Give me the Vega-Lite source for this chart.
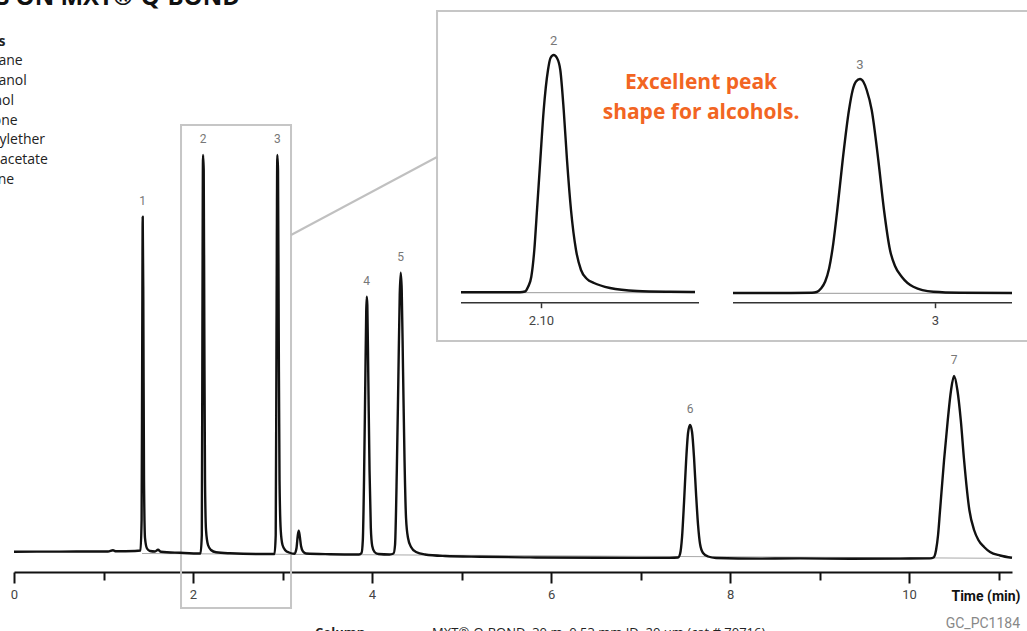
{
  "$schema": "https://vega.github.io/schema/vega-lite/v6.json",
  "width": 998,
  "height": 572,
  "autosize": "none",
  "padding": {"left": 14, "top": 0, "right": 15, "bottom": 59},
  "background": "white",
  "config": {"view": {"stroke": null}},
  "datasets": {
    "trace": [
      {"t":0,"v":-1.7},{"t":0.514,"v":-1.6},{"t":1.05,"v":-1.5},{"t":1.106,"v":-0.3},{"t":1.14,"v":-1.3},{"t":1.352,"v":-1},{"t":1.413,"v":-0.5},{"t":1.4257,"v":30},{"t":1.4324,"v":200},{"t":1.438,"v":333.3},{"t":1.4447,"v":250},{"t":1.4525,"v":70},{"t":1.4637,"v":12},{"t":1.486,"v":1.5},{"t":1.5196,"v":-1},{"t":1.5754,"v":-1.5},{"t":1.609,"v":0.2},{"t":1.6425,"v":-1.8},{"t":1.8547,"v":-2.8},{"t":2.0838,"v":-3.5},{"t":2.0983,"v":15},{"t":2.105,"v":220},{"t":2.1117,"v":395},{"t":2.1196,"v":380},{"t":2.1263,"v":220},{"t":2.1341,"v":70},{"t":2.1453,"v":20},{"t":2.1676,"v":5},{"t":2.2011,"v":0},{"t":2.257,"v":-2.3},{"t":2.4134,"v":-3.3},{"t":2.7486,"v":-4},{"t":2.9106,"v":-4},{"t":2.924,"v":15},{"t":2.933,"v":220},{"t":2.9419,"v":395},{"t":2.9497,"v":380},{"t":2.9575,"v":220},{"t":2.9665,"v":70},{"t":2.9799,"v":20},{"t":3.0,"v":5},{"t":3.0335,"v":-0.5},{"t":3.0726,"v":-2.5},{"t":3.1341,"v":-3.8},{"t":3.1564,"v":2},{"t":3.1698,"v":14},{"t":3.181,"v":19.3},{"t":3.1922,"v":14},{"t":3.2067,"v":4},{"t":3.2291,"v":-1.5},{"t":3.2626,"v":-3.5},{"t":3.5307,"v":-4.2},{"t":3.8547,"v":-4.5},{"t":3.8827,"v":-3},{"t":3.8972,"v":10},{"t":3.9106,"v":70},{"t":3.9251,"v":170},{"t":3.9352,"v":238},{"t":3.9408,"v":253.3},{"t":3.9475,"v":245},{"t":3.9587,"v":170},{"t":3.9721,"v":80},{"t":3.9866,"v":22},{"t":4.0022,"v":4},{"t":4.0279,"v":-2},{"t":4.0726,"v":-4},{"t":4.1944,"v":-4.5},{"t":4.2402,"v":-3.5},{"t":4.257,"v":5},{"t":4.2771,"v":80},{"t":4.2939,"v":170},{"t":4.3095,"v":255},{"t":4.3207,"v":277.3},{"t":4.3318,"v":260},{"t":4.3464,"v":180},{"t":4.3631,"v":90},{"t":4.3799,"v":32},{"t":4.4022,"v":12},{"t":4.4358,"v":3},{"t":4.4916,"v":-2},{"t":4.5922,"v":-4.5},{"t":4.8156,"v":-6},{"t":5.2067,"v":-6.8},{"t":5.7654,"v":-7.4},{"t":6.5475,"v":-7.8},{"t":7.3296,"v":-7.9},{"t":7.419,"v":-7.5},{"t":7.4413,"v":-4},{"t":7.4637,"v":13},{"t":7.486,"v":48},{"t":7.5084,"v":88},{"t":7.5307,"v":117},{"t":7.5531,"v":125},{"t":7.5754,"v":118},{"t":7.5978,"v":92},{"t":7.6201,"v":56},{"t":7.6425,"v":25},{"t":7.6648,"v":6},{"t":7.6983,"v":-3},{"t":7.7542,"v":-6.5},{"t":7.8436,"v":-8},{"t":8.3352,"v":-8.6},{"t":8.7821,"v":-8.4},{"t":9.3408,"v":-8.8},{"t":9.8994,"v":-8.6},{"t":10.2346,"v":-8.4},{"t":10.2737,"v":-7.5},{"t":10.3017,"v":0},{"t":10.324,"v":15},{"t":10.3464,"v":40},{"t":10.3911,"v":90},{"t":10.4324,"v":130},{"t":10.4693,"v":160},{"t":10.5028,"v":174},{"t":10.5397,"v":160},{"t":10.5777,"v":130},{"t":10.6145,"v":90},{"t":10.6737,"v":40},{"t":10.7263,"v":20},{"t":10.7743,"v":10},{"t":10.838,"v":3},{"t":10.905,"v":-2},{"t":11.0168,"v":-5.5},{"t":11.15,"v":-7.8}
    ],
    "peaks": [
      {"label":"1","t":1.438,"v":333.3},{"label":"2","t":2.1117,"v":395},{"label":"3","t":2.9419,"v":395},{"label":"4","t":3.9408,"v":253.3},{"label":"5","t":4.3207,"v":277.3},{"label":"6","t":7.5531,"v":125},{"label":"7","t":10.5028,"v":174}
    ],
    "insetA": [
      {"t":2.03333,"v":0.2},{"t":2.06583,"v":0.2},{"t":2.0825,"v":0.3},{"t":2.08667,"v":1},{"t":2.08917,"v":5.5},{"t":2.09192,"v":15.8},{"t":2.09442,"v":42.5},{"t":2.09667,"v":82.5},{"t":2.09942,"v":132.5},{"t":2.10225,"v":182.5},{"t":2.10583,"v":222.5},{"t":2.10792,"v":234.5},{"t":2.11058,"v":237.5},{"t":2.11333,"v":234.5},{"t":2.11608,"v":222.5},{"t":2.11892,"v":182.5},{"t":2.12167,"v":132.5},{"t":2.125,"v":82.5},{"t":2.12917,"v":42.5},{"t":2.13333,"v":22.5},{"t":2.13833,"v":13.5},{"t":2.14417,"v":9.5},{"t":2.1575,"v":4.5},{"t":2.18,"v":1.5},{"t":2.2075,"v":0.7},{"t":2.22833,"v":0.5}
    ],
    "insetB": [
      {"t":2.83167,"v":-0.5},{"t":2.87917,"v":-0.5},{"t":2.8975,"v":-0.3},{"t":2.90142,"v":0.5},{"t":2.905,"v":4},{"t":2.9085,"v":11},{"t":2.91175,"v":24},{"t":2.91525,"v":49.2},{"t":2.91858,"v":82.5},{"t":2.92308,"v":132.5},{"t":2.92833,"v":182.5},{"t":2.93142,"v":202.5},{"t":2.93417,"v":211},{"t":2.9375,"v":213.5},{"t":2.94042,"v":210.5},{"t":2.94308,"v":202.5},{"t":2.94725,"v":182.5},{"t":2.95275,"v":132.5},{"t":2.9575,"v":82.5},{"t":2.9625,"v":42.5},{"t":2.96667,"v":26.5},{"t":2.97225,"v":15.8},{"t":2.98192,"v":5.8},{"t":2.99858,"v":0.8},{"t":3.02083,"v":-0.2},{"t":3.06417,"v":-0.5}
    ]
  },
  "layer": [
    {
      "layer": [
        {
          "data": {"values": [{}]},
          "mark": {"type": "rect", "fill": null, "stroke": "#c6c6c6", "strokeWidth": 2},
          "encoding": {
            "x": {"datum": 1.866, "type": "quantitative", "scale": {"domain": [0, 11.15], "nice": false, "zero": false}},
            "x2": {"datum": 3.095},
            "y": {"datum": 425, "type": "quantitative", "scale": {"domain": [-22, 550], "nice": false, "zero": false}, "axis": null},
            "y2": {"datum": -58}
          }
        },
        {
          "data": {"values": [{}]},
          "mark": {"type": "rule", "color": "#aaaaaa", "strokeWidth": 1},
          "encoding": {
            "x": {"datum": 1.43, "type": "quantitative", "scale": {"domain": [0, 11.15], "nice": false, "zero": false}},
            "x2": {"datum": 11.0168},
            "y": {"datum": -3.5, "type": "quantitative", "scale": {"domain": [-22, 550], "nice": false, "zero": false}, "axis": null},
            "y2": {"datum": -8.3}
          }
        },
        {
          "data": {"name": "trace"},
          "mark": {"type": "line", "color": "#111111", "strokeWidth": 2.4, "interpolate": "monotone", "strokeJoin": "round"},
          "encoding": {
            "x": {
              "field": "t", "type": "quantitative",
              "scale": {"domain": [0, 11.15], "nice": false, "zero": false},
              "axis": {
                "orient": "bottom",
                "values": [0,1,2,3,4,5,6,7,8,9,10,11],
                "format": "d",
                "labelExpr": "datum.value % 2 === 0 ? datum.label : ''",
                "tickSize": {"condition": {"test": "datum.value % 2 === 0", "value": 11}, "value": 8},
                "tickWidth": 2, "tickColor": "#111111",
                "domainColor": "#111111", "domainWidth": 2,
                "grid": false,
                "labelFont": "Roboto", "labelFontSize": 13, "labelColor": "#444444",
                "labelPadding": 5, "labelFlush": false, "labelOverlap": false,
                "title": "Time (min)",
                "titleX": 1006, "titleY": 28, "titleAlign": "right", "titleBaseline": "alphabetic",
                "titleFont": "Roboto", "titleFontSize": 14, "titleFontWeight": "bold", "titleColor": "#111111"
              }
            },
            "y": {"field": "v", "type": "quantitative", "scale": {"domain": [-22, 550], "nice": false, "zero": false}, "axis": null}
          }
        },
        {
          "data": {"name": "peaks"},
          "mark": {"type": "text", "dy": -16, "baseline": "middle", "align": "center", "color": "#777777", "fontSize": 12, "font": "Roboto"},
          "encoding": {
            "x": {"field": "t", "type": "quantitative", "scale": {"domain": [0, 11.15], "nice": false, "zero": false}},
            "y": {"field": "v", "type": "quantitative", "scale": {"domain": [-22, 550], "nice": false, "zero": false}, "axis": null},
            "text": {"field": "label"}
          }
        },
        {
          "data": {"values": [{}]},
          "mark": {"type": "rect", "fill": "white", "stroke": "#c6c6c6", "strokeWidth": 2},
          "encoding": {
            "x": {"datum": 4.7263, "type": "quantitative", "scale": {"domain": [0, 11.15], "nice": false, "zero": false}},
            "x2": {"datum": 11.6},
            "y": {"datum": 539, "type": "quantitative", "scale": {"domain": [-22, 550], "nice": false, "zero": false}, "axis": null},
            "y2": {"datum": 209}
          }
        },
        {
          "data": {"values": [{}]},
          "mark": {"type": "rule", "color": "#c0c0c0", "strokeWidth": 2},
          "encoding": {
            "x": {"datum": 3.095, "type": "quantitative", "scale": {"domain": [0, 11.15], "nice": false, "zero": false}},
            "x2": {"datum": 4.7263},
            "y": {"datum": 315, "type": "quantitative", "scale": {"domain": [-22, 550], "nice": false, "zero": false}, "axis": null},
            "y2": {"datum": 393}
          }
        },
        {
          "data": {"values": [{}]},
          "mark": {"type": "text", "text": ["Excellent peak", "shape for alcohols."], "align": "center", "baseline": "middle", "lineHeight": 30, "font": "Open Sans", "fontSize": 21, "fontWeight": "bold", "color": "#F26522"},
          "encoding": {
            "x": {"datum": 7.676, "type": "quantitative", "scale": {"domain": [0, 11.15], "nice": false, "zero": false}},
            "y": {"datum": 467, "type": "quantitative", "scale": {"domain": [-22, 550], "nice": false, "zero": false}, "axis": null}
          }
        },
        {
          "data": {"values": [{}]},
          "mark": {"type": "text", "text": "Peaks", "align": "left", "baseline": "middle", "font": "Open Sans", "fontSize": 14, "fontWeight": "bold", "color": "#222222"},
          "encoding": {
            "x": {"datum": -0.5542, "type": "quantitative", "scale": {"domain": [0, 11.15], "nice": false, "zero": false}},
            "y": {"datum": 508.3, "type": "quantitative", "scale": {"domain": [-22, 550], "nice": false, "zero": false}, "axis": null}
          }
        },
        {
          "data": {"values": [{}]},
          "mark": {"type": "text", "text": ["Methane", "Methanol", "Ethanol", "Acetone", "Diethylether", "Ethyl acetate", "Hexane"], "align": "left", "baseline": "middle", "lineHeight": 19.85, "font": "Open Sans", "fontSize": 14, "color": "#222222"},
          "encoding": {
            "x": {"datum": -0.5542, "type": "quantitative", "scale": {"domain": [0, 11.15], "nice": false, "zero": false}},
            "y": {"datum": 489, "type": "quantitative", "scale": {"domain": [-22, 550], "nice": false, "zero": false}, "axis": null}
          }
        },
        {
          "data": {"values": [{}]},
          "mark": {"type": "text", "text": "SOLVENTS ON MXT®-Q-BOND", "align": "right", "baseline": "alphabetic", "font": "Open Sans", "fontSize": 24, "fontWeight": "bold", "color": "#111111"},
          "encoding": {
            "x": {"datum": 2.525, "type": "quantitative", "scale": {"domain": [0, 11.15], "nice": false, "zero": false}},
            "y": {"datum": 545, "type": "quantitative", "scale": {"domain": [-22, 550], "nice": false, "zero": false}, "axis": null}
          }
        },
        {
          "data": {"values": [{}]},
          "mark": {"type": "text", "text": "Column", "align": "left", "baseline": "alphabetic", "font": "Open Sans", "fontSize": 13, "fontWeight": "bold", "color": "#222222"},
          "encoding": {
            "x": {"datum": 3.3631, "type": "quantitative", "scale": {"domain": [0, 11.15], "nice": false, "zero": false}},
            "y": {"datum": -87, "type": "quantitative", "scale": {"domain": [-22, 550], "nice": false, "zero": false}, "axis": null}
          }
        },
        {
          "data": {"values": [{}]},
          "mark": {"type": "text", "text": "MXT®-Q-BOND, 30 m, 0.53 mm ID, 20 µm (cat.# 70716)", "align": "left", "baseline": "alphabetic", "font": "Open Sans", "fontSize": 13, "color": "#222222"},
          "encoding": {
            "x": {"datum": 4.6704, "type": "quantitative", "scale": {"domain": [0, 11.15], "nice": false, "zero": false}},
            "y": {"datum": -87, "type": "quantitative", "scale": {"domain": [-22, 550], "nice": false, "zero": false}, "axis": null}
          }
        },
        {
          "data": {"values": [{}]},
          "mark": {"type": "text", "text": "GC_PC1184", "align": "right", "baseline": "middle", "font": "Roboto", "fontSize": 14, "color": "#888888"},
          "encoding": {
            "x": {"datum": 11.2402, "type": "quantitative", "scale": {"domain": [0, 11.15], "nice": false, "zero": false}},
            "y": {"datum": -74, "type": "quantitative", "scale": {"domain": [-22, 550], "nice": false, "zero": false}, "axis": null}
          }
        }
      ]
    },
    {
      "layer": [
        {
          "data": {"values": [{}]},
          "mark": {"type": "rule", "color": "#999999", "strokeWidth": 1},
          "encoding": {
            "x": {"datum": 2.03333, "type": "quantitative", "scale": {"domain": [1.66083, 2.4925], "nice": false, "zero": false}},
            "x2": {"datum": 2.22833},
            "y": {"datum": -0.2, "type": "quantitative", "scale": {"domain": [-279.5, 292.5], "nice": false, "zero": false}, "axis": null}
          }
        },
        {
          "data": {"values": [{}]},
          "mark": {"type": "rule", "color": "#333333", "strokeWidth": 1.5},
          "encoding": {
            "x": {"datum": 2.03333, "type": "quantitative", "scale": {"domain": [1.66083, 2.4925], "nice": false, "zero": false}},
            "x2": {"datum": 2.23167},
            "y": {"datum": -10.2, "type": "quantitative", "scale": {"domain": [-279.5, 292.5], "nice": false, "zero": false}, "axis": null}
          }
        },
        {
          "data": {"name": "insetA"},
          "mark": {"type": "line", "color": "#111111", "strokeWidth": 2.4, "interpolate": "monotone", "strokeJoin": "round"},
          "encoding": {
            "x": {
              "field": "t", "type": "quantitative",
              "scale": {"domain": [1.66083, 2.4925], "nice": false, "zero": false},
              "axis": {
                "orient": "bottom", "offset": -269.3, "values": [2.1], "format": ".2f", "zindex": 2,
                "domain": false, "grid": false, "tickSize": 5, "tickWidth": 1.5, "tickColor": "#333333",
                "labelFont": "Roboto", "labelFontSize": 13, "labelColor": "#444444", "labelPadding": 7, "title": null
              }
            },
            "y": {"field": "v", "type": "quantitative", "scale": {"domain": [-279.5, 292.5], "nice": false, "zero": false}, "axis": null}
          }
        },
        {
          "data": {"values": [{}]},
          "mark": {"type": "text", "text": "2", "dy": -14.5, "baseline": "middle", "align": "center", "color": "#777777", "fontSize": 13, "font": "Roboto"},
          "encoding": {
            "x": {"datum": 2.11058, "type": "quantitative", "scale": {"domain": [1.66083, 2.4925], "nice": false, "zero": false}},
            "y": {"datum": 237.5, "type": "quantitative", "scale": {"domain": [-279.5, 292.5], "nice": false, "zero": false}, "axis": null}
          }
        }
      ]
    },
    {
      "layer": [
        {
          "data": {"values": [{}]},
          "mark": {"type": "rule", "color": "#999999", "strokeWidth": 1},
          "encoding": {
            "x": {"datum": 2.83167, "type": "quantitative", "scale": {"domain": [2.2325, 3.06417], "nice": false, "zero": false}},
            "x2": {"datum": 3.06417},
            "y": {"datum": -0.8, "type": "quantitative", "scale": {"domain": [-279.5, 292.5], "nice": false, "zero": false}, "axis": null}
          }
        },
        {
          "data": {"values": [{}]},
          "mark": {"type": "rule", "color": "#333333", "strokeWidth": 1.5},
          "encoding": {
            "x": {"datum": 2.83167, "type": "quantitative", "scale": {"domain": [2.2325, 3.06417], "nice": false, "zero": false}},
            "x2": {"datum": 3.06417},
            "y": {"datum": -10.2, "type": "quantitative", "scale": {"domain": [-279.5, 292.5], "nice": false, "zero": false}, "axis": null}
          }
        },
        {
          "data": {"name": "insetB"},
          "mark": {"type": "line", "color": "#111111", "strokeWidth": 2.4, "interpolate": "monotone", "strokeJoin": "round"},
          "encoding": {
            "x": {
              "field": "t", "type": "quantitative",
              "scale": {"domain": [2.2325, 3.06417], "nice": false, "zero": false},
              "axis": {
                "orient": "bottom", "offset": -269.3, "values": [3], "format": "d", "zindex": 2,
                "domain": false, "grid": false, "tickSize": 5, "tickWidth": 1.5, "tickColor": "#333333",
                "labelFont": "Roboto", "labelFontSize": 13, "labelColor": "#444444", "labelPadding": 7, "title": null
              }
            },
            "y": {"field": "v", "type": "quantitative", "scale": {"domain": [-279.5, 292.5], "nice": false, "zero": false}, "axis": null}
          }
        },
        {
          "data": {"values": [{}]},
          "mark": {"type": "text", "text": "3", "dy": -14.5, "baseline": "middle", "align": "center", "color": "#777777", "fontSize": 13, "font": "Roboto"},
          "encoding": {
            "x": {"datum": 2.9375, "type": "quantitative", "scale": {"domain": [2.2325, 3.06417], "nice": false, "zero": false}},
            "y": {"datum": 213.5, "type": "quantitative", "scale": {"domain": [-279.5, 292.5], "nice": false, "zero": false}, "axis": null}
          }
        }
      ]
    }
  ],
  "resolve": {"scale": {"x": "independent", "y": "independent"}, "axis": {"x": "independent", "y": "independent"}}
}
